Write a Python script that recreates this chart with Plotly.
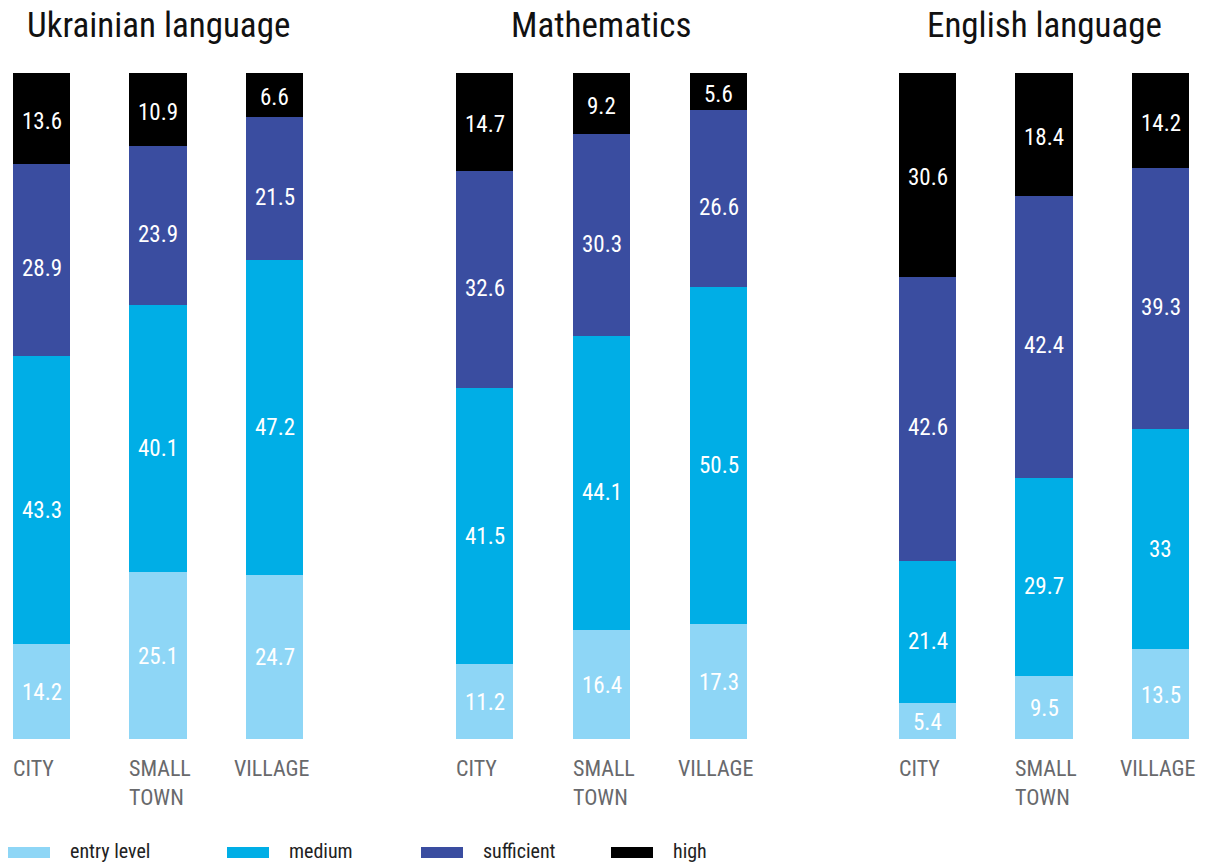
import plotly.graph_objects as go

# Survey results: share of students (%) by achievement level
subjects = ["Ukrainian language", "Mathematics", "English language"]
settlements = ["CITY", "SMALL<br>TOWN", "VILLAGE"]
levels = ["entry level", "medium", "sufficient", "high"]
level_colors = ["#8ed6f6", "#00aee6", "#3a4da0", "#000000"]

ukrainian_entry = [14.2, 25.1, 24.7]
ukrainian_medium = [43.3, 40.1, 47.2]
ukrainian_sufficient = [28.9, 23.9, 21.5]
ukrainian_high = [13.6, 10.9, 6.6]

math_entry = [11.2, 16.4, 17.3]
math_medium = [41.5, 44.1, 50.5]
math_sufficient = [32.6, 30.3, 26.6]
math_high = [14.7, 9.2, 5.6]

english_entry = [5.4, 9.5, 13.5]
english_medium = [21.4, 29.7, 33]
english_sufficient = [42.6, 42.4, 39.3]
english_high = [30.6, 18.4, 14.2]

subject_data = [
    [ukrainian_entry, ukrainian_medium, ukrainian_sufficient, ukrainian_high],
    [math_entry, math_medium, math_sufficient, math_high],
    [english_entry, english_medium, english_sufficient, english_high],
]

FONT = "Roboto Condensed, Liberation Sans Narrow, DejaVu Sans Condensed, Arial Narrow, sans-serif"
W, H = 1206, 864
BAR_W = 0.49

# panel layout in pixels: (left, right, centre of first bar, bar spacing)
panels = [(0, 350, 41.5, 116.5), (440, 790, 484.5, 117.0), (880, 1206, 927.5, 116.5)]
y_dom = [125 / H, (H - 73) / H]
# vertical nudge of the value labels inside each level's segment
label_shift = [-1, -10, -9, -3]

fig = go.Figure()
annotations = []
shapes = []
positions = [0, 1, 2]

for p, (subject, series) in enumerate(zip(subjects, subject_data)):
    left, right, c0, step = panels[p]
    ax = "" if p == 0 else str(p + 1)
    base = [0.0, 0.0, 0.0]
    for lvl, vals in enumerate(series):
        fig.add_trace(go.Bar(
            x=positions, y=vals, width=BAR_W,
            marker=dict(color=level_colors[lvl], line=dict(width=0)),
            name=levels[lvl], showlegend=False,
            xaxis="x" + ax, yaxis="y" + ax, hoverinfo="skip",
        ))
        # value label at the middle of each stacked segment
        for i, v in enumerate(vals):
            annotations.append(dict(
                text=f"{v:g}", x=i, xref="x" + ax,
                y=base[i] + v / 2, yref="y" + ax, yshift=label_shift[lvl],
                xanchor="center", yanchor="middle", showarrow=False,
                font=dict(family=FONT, size=23, color="white"),
            ))
            base[i] += v
    fig.update_layout(**{
        "xaxis" + ax: dict(domain=[left / W, right / W],
                           range=[-(c0 - left) / step, (right - c0) / step],
                           visible=False, anchor="y" + ax),
        "yaxis" + ax: dict(domain=y_dom, range=[0, 100], visible=False,
                           anchor="x" + ax),
    })
    # subject heading, centred over middle bar
    annotations.append(dict(
        text=subject, x=1, xref="x" + ax, y=1 - 25 / H, yref="paper",
        xanchor="center", yanchor="middle", showarrow=False,
        font=dict(family=FONT, size=35, color="#111111"),
    ))
    # settlement labels under each bar
    for i, lab in enumerate(settlements):
        if i < 2:
            xa, xs, anchor = i - BAR_W / 2, -2, "left"
        else:
            xa, xs, anchor = i, -3, "center"
        annotations.append(dict(
            text=lab, x=xa, xref="x" + ax, xshift=xs,
            y=(H - 754) / H, yref="paper", xanchor=anchor, yanchor="top",
            align="left", showarrow=False,
            font=dict(family=FONT, size=22, color="#68696c"),
        ))

# legend row
legend_x = [8, 227, 421, 611]
for lvl, name in enumerate(levels):
    x0 = legend_x[lvl]
    shapes.append(dict(
        type="rect", xref="paper", yref="paper",
        x0=x0 / W, x1=(x0 + 42) / W, y0=(H - 858) / H, y1=(H - 847) / H,
        fillcolor=level_colors[lvl], line=dict(width=0),
    ))
    annotations.append(dict(
        text=name, x=(x0 + 60) / W, y=(H - 851) / H, xref="paper", yref="paper",
        xanchor="left", yanchor="middle", showarrow=False,
        font=dict(family=FONT, size=20, color="#222222"),
    ))

fig.update_layout(
    width=W, height=H, barmode="stack", bargap=0,
    margin=dict(l=0, r=0, t=0, b=0),
    paper_bgcolor="white", plot_bgcolor="white",
    font=dict(family=FONT),
    annotations=annotations, shapes=shapes,
)

fig.write_html("out.html")
